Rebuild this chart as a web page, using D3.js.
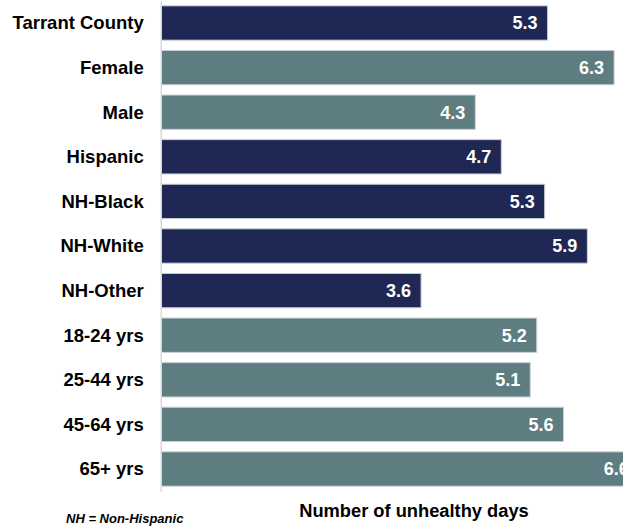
<!DOCTYPE html>
<html>
<head>
<meta charset="utf-8">
<script src="https://cdn.jsdelivr.net/npm/d3@7"></script>
<style>
	body { margin: 0; background: #fff; }
	svg { display: block; font-family: "Liberation Sans", Arial, sans-serif; }
	.axis--y .domain { stroke: #d9d9d9; stroke-width: 1.5; }
	.axis--y text { font-size: 18.5px; font-weight: bold; fill: #000; }
	.bar { stroke: #c9d1dc; stroke-width: 1; }
	.value { font-size: 18px; font-weight: bold; fill: #fff; }
	.axis-label { font-size: 18.3px; font-weight: bold; fill: #000; }
	.note { font-size: 13px; font-weight: bold; font-style: italic; fill: #000; }
</style>
</head>
<body>
<div id="chart"></div>
<script>
// data
var categories = ["Tarrant County", "Female", "Male", "Hispanic", "NH-Black",
	"NH-White", "NH-Other", "18-24 yrs", "25-44 yrs", "45-64 yrs", "65+ yrs"];
var values = [5.34, 6.26, 4.34, 4.70, 5.30, 5.89, 3.59, 5.19, 5.10, 5.56, 6.60];
var groups = ["total", "sex", "sex", "race", "race", "race", "race",
	"age", "age", "age", "age"];
var groupNames = ["total", "sex", "race", "age"];
var groupColors = ["#1f2855", "#5e7d80", "#1f2855", "#5e7d80"];
var xLabel = "Number of unhealthy days";
var note = "NH = Non-Hispanic";

var width = 623, height = 527;
var left = 161.5;

var svg = d3.select("#chart").append("svg")
	.attr("width", width)
	.attr("height", height);

var x = d3.scaleLinear()
	.domain([0, 7])
	.range([left, left + 7 * 72.3]);

var y = d3.scaleBand()
	.domain(categories)
	.range([0.7, 491.3])
	.paddingInner(0.23)
	.paddingOuter(0.115);

var color = d3.scaleOrdinal()
	.domain(groupNames)
	.range(groupColors);

var rows = categories.map(function(c, i) {
	return {name: c, value: values[i], group: groups[i]};
});

// bars
svg.append("g")
	.selectAll("rect")
	.data(rows)
	.join("rect")
	.attr("class", "bar")
	.attr("x", x(0))
	.attr("y", d => y(d.name))
	.attr("width", d => x(d.value) - x(0))
	.attr("height", y.bandwidth())
	.attr("fill", d => color(d.group));

// category axis
var yAxis = d3.axisLeft(y).tickSize(0).tickPadding(17);
svg.append("g")
	.attr("class", "axis axis--y")
	.attr("transform", "translate(" + (left - 0.8) + ",0)")
	.call(yAxis)
	.call(g => g.selectAll("text").attr("dy", "0.35em"));

// value labels inside bar ends
svg.append("g")
	.selectAll("text")
	.data(rows)
	.join("text")
	.attr("class", "value")
	.attr("text-anchor", "end")
	.attr("x", d => x(d.value) - 10)
	.attr("y", d => y(d.name) + y.bandwidth() / 2)
	.attr("dy", "0.35em")
	.text(d => d3.format(".1f")(d.value));

// axis title
svg.append("text")
	.attr("class", "axis-label")
	.attr("text-anchor", "middle")
	.attr("x", 414)
	.attr("y", 517)
	.text(xLabel);

// footnote
svg.append("text")
	.attr("class", "note")
	.attr("x", 66)
	.attr("y", 523)
	.text(note);
</script>
</body>
</html>
